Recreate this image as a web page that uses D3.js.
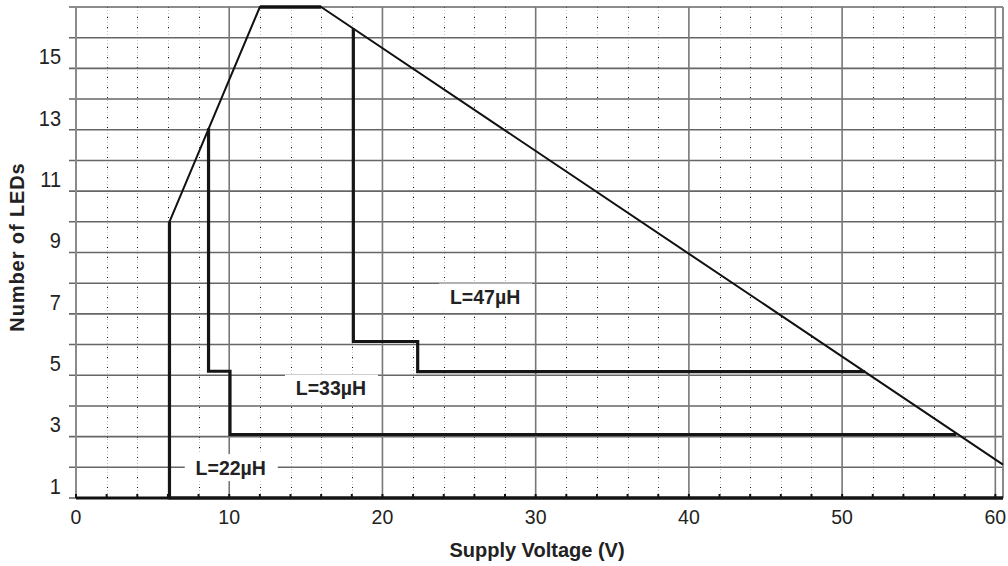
<!DOCTYPE html>
<html>
<head>
<meta charset="utf-8">
<script src="https://cdn.jsdelivr.net/npm/d3@7"></script>
<style>
  html, body { margin: 0; padding: 0; background: #fff; }
  svg { display: block; }
  text { font-family: "Liberation Sans", Arial, sans-serif; fill: #222; }
</style>
</head>
<body>
<svg id="chart" width="1008" height="566"></svg>
<script>
// ---- data ----
const xTickLabels = [0, 10, 20, 30, 40, 50, 60];
const xMinorTicks = [2, 4, 6, 8, 12, 14, 16, 18, 22, 24, 26, 28, 32, 34, 36, 38, 42, 44, 46, 48, 52, 54, 56, 58];
const yGridValues = [1, 2, 3, 4, 5, 6, 7, 8, 9, 10, 11, 12, 13, 14, 15, 16];
const yTickLabels = [1, 3, 5, 7, 9, 11, 13, 15];

// maximum-LED envelope (supply voltage V, number of LEDs)
const envelopeV = [6.1, 12, 16, 60.5];
const envelopeN = [9, 16, 16, 1.09];

// inductor curves
const l22V = [6.1, 6.1, 60.5];
const l22N = [9, 0, 0];
const l33V = [8.65, 8.65, 10.05, 10.05, 57.45];
const l33N = [12.05, 4.13, 4.13, 2.07, 2.07];
const l47V = [18.1, 18.1, 22.3, 22.3, 51.5];
const l47N = [15.3, 5.1, 5.1, 4.12, 4.12];

const curveLabels = ["L=22µH", "L=33µH", "L=47µH"];
const curveLabelV = [10.1, 16.64, 26.7];
const curveLabelN = [0.99, 3.58, 6.55];

const xTitle = "Supply Voltage (V)";
const yTitle = "Number of LEDs";

// ---- layout ----
const svg = d3.select("#chart");
const x = d3.scaleLinear().domain([0, 60.5]).range([76, 1003]);
const y = d3.scaleLinear().domain([0, 16]).range([498, 7]);
const yLabelShift = 0.6; // tick labels sit in the row below their grid line

const g = svg.append("g");

// vertical dotted gridlines
const dots = g.append("g");
dots.selectAll("line.dg").data(xMinorTicks).join("line")
  .attr("x1", d => Math.round(x(d)) + 0.5).attr("x2", d => Math.round(x(d)) + 0.5)
  .attr("y1", y(16)).attr("y2", y(0))
  .attr("stroke", "#c2c2c2").attr("stroke-width", 1).attr("stroke-dasharray", "1,2");
dots.selectAll("line.dk").data(xMinorTicks).join("line")
  .attr("x1", d => Math.round(x(d)) + 0.5).attr("x2", d => Math.round(x(d)) + 0.5)
  .attr("y1", y(16)).attr("y2", y(0))
  .attr("stroke", "#111").attr("stroke-width", 1).attr("stroke-dasharray", "1,9");

// horizontal gridlines
g.append("g").selectAll("line").data(yGridValues).join("line")
  .attr("x1", 69).attr("x2", x(60.5))
  .attr("y1", d => y(d)).attr("y2", d => y(d))
  .attr("stroke", "#666").attr("stroke-width", 1.6);

// vertical solid gridlines
g.append("g").selectAll("line").data(xTickLabels.filter(d => d > 0)).join("line")
  .attr("x1", d => x(d)).attr("x2", d => x(d))
  .attr("y1", y(16)).attr("y2", y(0))
  .attr("stroke", "#777").attr("stroke-width", 1.6);

// frame: left axis, right edge
g.append("line").attr("x1", x(0)).attr("x2", x(0)).attr("y1", y(16)).attr("y2", y(0))
  .attr("stroke", "#8a8a8a").attr("stroke-width", 2);
g.append("line").attr("x1", x(60.5)).attr("x2", x(60.5)).attr("y1", y(16)).attr("y2", y(0))
  .attr("stroke", "#8a8a8a").attr("stroke-width", 2);

// label boxes (white, behind curves)
const labelG = svg.append("g");
curveLabels.forEach((t, i) => {
  const cx = x(curveLabelV[i]), cy = y(curveLabelN[i]);
  labelG.append("rect")
    .attr("x", cx - 46).attr("y", cy - 13.5).attr("width", 93).attr("height", 27)
    .attr("fill", "#fff");
});

// bottom axis (thick)
svg.append("line").attr("x1", 69).attr("x2", x(0)).attr("y1", y(0)).attr("y2", y(0))
  .attr("stroke", "#888").attr("stroke-width", 2);
svg.append("line").attr("x1", x(0)).attr("x2", x(60.5)).attr("y1", y(0)).attr("y2", y(0))
  .attr("stroke", "#111").attr("stroke-width", 3);
// small ticks on bottom axis
svg.append("g").selectAll("line").data(d3.range(0, 61, 2)).join("line")
  .attr("x1", d => x(d)).attr("x2", d => x(d))
  .attr("y1", y(0) - 4).attr("y2", y(0))
  .attr("stroke", "#111").attr("stroke-width", 2);

// curves
const line = d3.line().x(d => x(d[0])).y(d => y(d[1]));
const zip = (a, b) => a.map((v, i) => [v, b[i]]);

svg.append("path").attr("d", line(zip(envelopeV, envelopeN)))
  .attr("fill", "none").attr("stroke", "#111").attr("stroke-width", 2).attr("stroke-linejoin", "round");
svg.append("path").attr("d", line(zip(envelopeV.slice(1, 3), envelopeN.slice(1, 3))))
  .attr("fill", "none").attr("stroke", "#111").attr("stroke-width", 3.5);

[[l22V, l22N], [l33V, l33N], [l47V, l47N]].forEach(([vs, ns]) => {
  svg.append("path").attr("d", line(zip(vs, ns)))
    .attr("fill", "none").attr("stroke", "#151515").attr("stroke-width", 3.2)
    .attr("stroke-linejoin", "miter");
});

// curve labels
curveLabels.forEach((t, i) => {
  svg.append("text")
    .attr("x", x(curveLabelV[i])).attr("y", y(curveLabelN[i]))
    .attr("dy", "0.36em").attr("text-anchor", "middle")
    .attr("font-size", 19.5).attr("font-weight", "bold")
    .text(t);
});

// x tick labels
svg.append("g").selectAll("text").data(xTickLabels).join("text")
  .attr("x", d => x(d)).attr("y", 524)
  .attr("text-anchor", "middle").attr("font-size", 19.5).attr("fill", "#2a2a2a")
  .text(d => d);

// y tick labels (slightly tall glyphs, as in the reference)
svg.append("g").selectAll("text").data(yTickLabels).join("text")
  .attr("transform", d => `translate(61,${y(d - yLabelShift)}) scale(1,1.12)`)
  .attr("dy", "0.36em")
  .attr("text-anchor", "end").attr("font-size", 20).attr("fill", "#2a2a2a")
  .text(d => d);

// axis titles
svg.append("text").attr("x", 537).attr("y", 557)
  .attr("text-anchor", "middle").attr("font-size", 20).attr("font-weight", "bold")
  .text(xTitle);
svg.append("text").attr("transform", "translate(24,247) rotate(-90)")
  .attr("text-anchor", "middle").attr("font-size", 20).attr("font-weight", "bold")
  .attr("letter-spacing", 0.9)
  .text(yTitle);
</script>
</body>
</html>
